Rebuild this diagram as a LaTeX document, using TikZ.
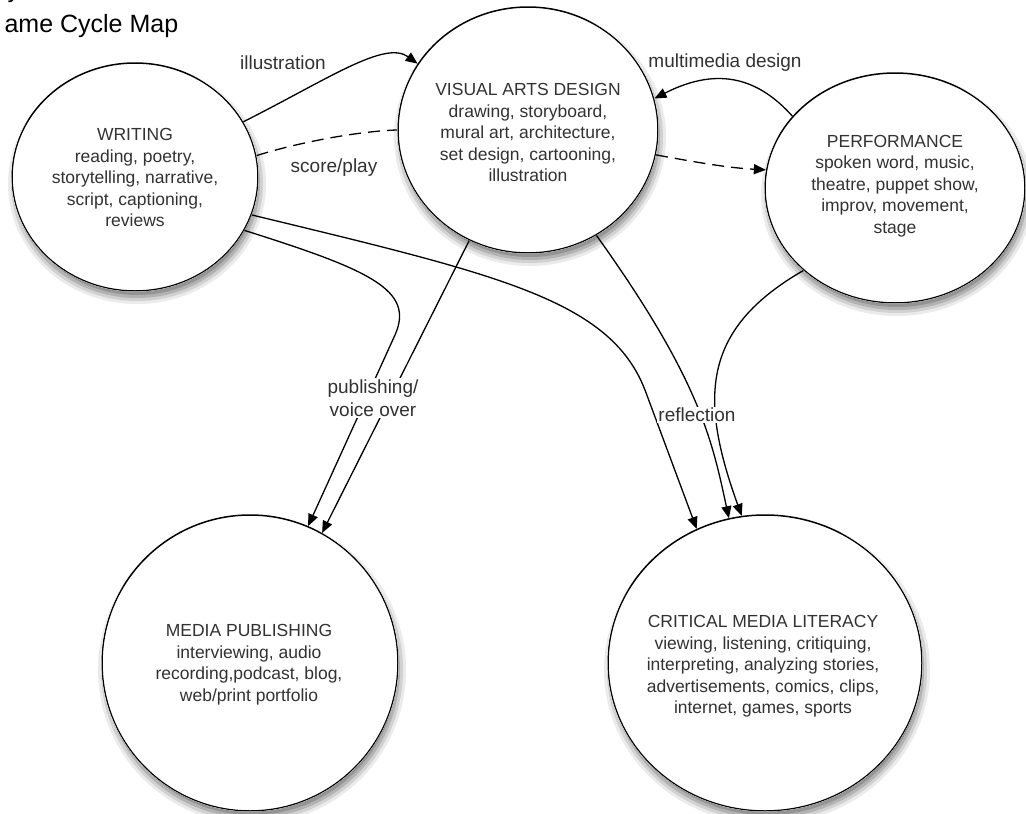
\documentclass[tikz,border=0pt]{standalone}
\usepackage{fontspec}
\setmainfont{Liberation Sans}
\usetikzlibrary{arrows.meta,shapes.geometric}
\definecolor{textgray}{RGB}{50,50,50}
\begin{document}
\begin{tikzpicture}[x=1pt,y=-1pt,
  circ/.style={ellipse, draw=black, line width=1.5pt, fill=white, inner sep=0pt},
  ntext/.style={text=textgray, align=center, font=\fontsize{17.5}{21.5}\selectfont, inner sep=0pt},
  conn/.style={line width=1.3pt, draw=black},
  arr/.style={conn, -{Triangle[length=12pt,width=10pt]}},
  dashpat/.style={dash pattern=on 12pt off 7pt},
  lbl/.style={fill=white, text=textgray, font=\fontsize{19}{23}\selectfont, align=center, inner sep=1.5pt}]
\fill[white] (0,0) rectangle (1026,814);
\useasboundingbox (0,0) rectangle (1026,814);

% title
\node[anchor=base west, font=\fontsize{25}{30}\selectfont] (ytop) at (4,-2.5) {y};
\node[anchor=base west, font=\fontsize{25}{30}\selectfont] (title) at (1,32) {ame Cycle Map};

% circles
\node[circ, minimum width=246pt, minimum height=228pt] (W) at (135,177) {};
\node[circ, minimum width=260pt, minimum height=246pt] (V) at (528,130) {};
\node[circ, minimum width=260pt, minimum height=230pt] (P) at (895,188) {};
\node[circ, minimum width=296pt, minimum height=296pt] (M) at (250,663) {};
\node[circ, minimum width=314pt, minimum height=296pt] (C) at (765,663) {};

% shadows: grey crescents just outside the lower edge of each circle
\foreach \cx/\cy/\rx/\ry in {135/177/123/114, 528/130/130/123, 895/188/130/115, 250/663/148/148, 765/663/157/148}{
  \foreach \d/\g in {6/8, 3/18, 0/30, -3/42}{
    \begin{scope}
      \clip ({\cx+2},{\cy+7}) ellipse ({\rx+\d} and {\ry+\d});
      \fill[black!\g, even odd rule] (-20,-20) rectangle (1050,840) (\cx,\cy) ellipse ({\rx+0.7} and {\ry+0.7});
    \end{scope}
  }
}

\node[ntext] (Wt) at (135,177.5) {WRITING\\reading, poetry,\\storytelling, narrative,\\script, captioning,\\reviews};
\node[ntext] (Vt) at (528,132.5) {VISUAL ARTS DESIGN\\drawing, storyboard,\\mural art, architecture,\\set design, cartooning,\\illustration};
\node[ntext] (Pt) at (895,186) {PERFORMANCE\\spoken word, music,\\theatre, puppet show,\\improv, movement,\\stage};
\node[ntext] (Mt) at (249,664.5) {MEDIA PUBLISHING\\interviewing, audio\\recording,podcast, blog,\\web/print portfolio};
\node[ntext] (Ct) at (763,666.5) {CRITICAL MEDIA LITERACY\\viewing, listening, critiquing,\\interpreting, analyzing stories,\\advertisements, comics, clips,\\internet, games, sports};

% connectors
\draw[arr] (W.27) .. controls (330,78) and (385,40) .. (V.149);
\draw[conn, dashpat] (W.10) .. controls (300,142) and (360,131) .. (V.180);
\draw[arr, dashpat] (V.-11) .. controls (700,163) and (730,168) .. (P.172);
\draw[arr] (P.145) .. controls (760,80) and (720,65) .. (V.14);
\draw[arr] (W.-26) .. controls (370,270) and (415,290) .. (395,335) -- (M.67);
\draw[arr] (W.-18) .. controls (500,275) and (610,300) .. (645,390) -- (C.117);
\draw[arr] (V.-57) .. controls (700,380) and (712,440) .. (C.104);
\draw[arr] (P.-138) .. controls (700,330) and (700,400) .. (C.99);
\draw[arr] (V.-118) -- (M.61);

% labels
\node[lbl] (lill) at (283,63) {illustration};
\node[lbl] (lscore) at (334,168) {score/play};
\node[lbl] (lmulti) at (725,63) {multimedia design};
\node[lbl] (lpub) at (373,398) {publishing/\\voice over};
\node[lbl] (lref) at (697,415) {reflection};
\end{tikzpicture}
\end{document}
